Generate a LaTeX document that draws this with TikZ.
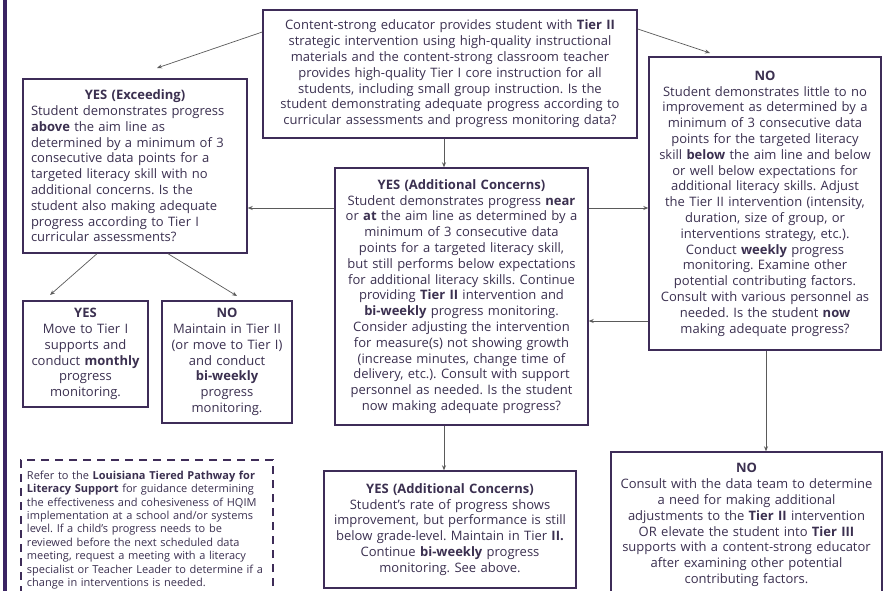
\documentclass[tikz,border=0pt]{standalone}
\usepackage{fontspec}
\setmainfont{Open Sans}
\usetikzlibrary{arrows.meta}
\definecolor{boxc}{HTML}{3E2C58}
\definecolor{txt}{HTML}{3B3050}
\definecolor{arr}{HTML}{5A5A5A}
\definecolor{barc}{HTML}{3A2463}
\frenchspacing
\begin{document}
\frenchspacing
\begin{tikzpicture}[x=1pt,y=-1pt,
  box/.style={draw=boxc, line width=1.4pt, fill=white, text=txt, inner xsep=4pt, inner ysep=0pt, align=center, font=\fontsize{13}{15.8}\selectfont\frenchspacing},
  note/.style={draw=boxc, line width=1.4pt, dash pattern=on 8pt off 6pt, fill=white, text=txt, inner xsep=6pt, inner ysep=0pt, align=left, font=\fontsize{11}{13.4}\selectfont\frenchspacing},
  ar/.style={draw=arr, line width=0.7pt, -{Stealth[length=5pt,width=4pt]}}]
\useasboundingbox (0,0) rectangle (883,591);
\clip (0,0) rectangle (883,591);
\fill[barc] (3,0) rectangle (7,591);

\node[box, minimum width=374pt, minimum height=128pt, text width=366pt] (top) at (450,74) {Content-strong educator provides student with \textbf{Tier II}\\
strategic intervention using high-quality instructional\\
materials and the content-strong classroom teacher\\
provides high-quality Tier I core instruction for all\\
students, including small group instruction. Is the\\
student demonstrating adequate progress according to\\
curricular assessments and progress monitoring data?};

\node[box, align=left, minimum width=224pt, minimum height=174pt, text width=208pt, inner xsep=8pt] (exc) at (135,166) {\makebox[\linewidth][c]{\textbf{YES (Exceeding)}}\\
Student demonstrates progress\\
\textbf{above} the aim line as\\
determined by a minimum of 3\\
consecutive data points for a\\
targeted literacy skill with no\\
additional concerns. Is the\\
student also making adequate\\
progress according to Tier I\\
curricular assessments?};

\node[box, minimum width=253pt, minimum height=257pt, text width=245pt] (mid) at (461.5,296.5) {\textbf{YES (Additional Concerns)}\\
Student demonstrates progress \textbf{near}\\
or \textbf{at} the aim line as determined by a\\
minimum of 3 consecutive data\\
points for a targeted literacy skill,\\
but still performs below expectations\\
for additional literacy skills. Continue\\
providing \textbf{Tier II} intervention and\\
\textbf{bi-weekly} progress monitoring.\\
Consider adjusting the intervention\\
for measure(s) not showing growth\\
(increase minutes, change time of\\
delivery, etc.). Consult with support\\
personnel as needed. Is the student\\
now making adequate progress?};

\node[box, minimum width=232pt, minimum height=293pt, text width=224pt] (no) at (765,203.5) {\textbf{NO}\\
Student demonstrates little to no\\
improvement as determined by a\\
minimum of 3 consecutive data\\
points for the targeted literacy\\
skill \textbf{below} the aim line and below\\
or well below expectations for\\
additional literacy skills. Adjust\\
the Tier II intervention (intensity,\\
duration, size of group, or\\
interventions strategy, etc.).\\
Conduct \textbf{weekly} progress\\
monitoring. Examine other\\
potential contributing factors.\\
Consult with various personnel as\\
needed. Is the student \textbf{now}\\
making adequate progress?};

\node[box, minimum width=125pt, minimum height=106pt, text width=117pt] (yes1) at (85.5,354) {\textbf{YES}\\
Move to Tier I\\
supports and\\
conduct \textbf{monthly}\\
progress\\
monitoring.};

\node[box, minimum width=130pt, minimum height=122pt, text width=122pt] (no1) at (227,362) {\textbf{NO}\\
Maintain in Tier II\\
(or move to Tier I)\\
and conduct\\
\textbf{bi-weekly}\\
progress\\
monitoring.};

\node[note, minimum width=252pt, minimum height=140pt, text width=240pt] (tip) at (147,530) {Refer to the \textbf{Louisiana Tiered Pathway for}\\
\textbf{Literacy Support} for guidance determining\\
the effectiveness and cohesiveness of HQIM\\
implementation at a school and/or systems\\
level. If a child’s progress needs to be\\
reviewed before the next scheduled data\\
meeting, request a meeting with a literacy\\
specialist or Teacher Leader to determine if a\\
change in interventions is needed.};

\node[box, minimum width=252pt, minimum height=117pt, text width=244pt] (bmid) at (450,529.5) {\textbf{YES (Additional Concerns)}\\
Student’s rate of progress shows\\
improvement, but performance is still\\
below grade-level. Maintain in Tier \textbf{II.}\\
Continue \textbf{bi-weekly} progress\\
monitoring. See above.};

\node[box, minimum width=271pt, minimum height=146pt, text width=263pt] (bno) at (746.5,525) {\textbf{NO}\\
Consult with the data team to determine\\
a need for making additional\\
adjustments to the \textbf{Tier II} intervention\\
OR elevate the student into \textbf{Tier III}\\
supports with a content-strong educator\\
after examining other potential\\
contributing factors.};

\coordinate (e1) at (157,68);
\coordinate (n1) at (710,53);
\coordinate (y1) at (50,295);
\coordinate (y2) at (237,296);
\draw[ar] (top.west |- 0,32) -- (e1);
\draw[ar] (top.east |- 0,29) -- (n1);
\draw[ar] (top.south -| 444,0) -- (mid.north -| 444,0);
\draw[ar] (mid.west |- 0,208) -- (exc.east |- 0,208);
\draw[ar] (mid.east |- 0,208) -- (no.west |- 0,208);
\draw[ar] (no.west |- 0,321) -- (mid.east |- 0,321);
\draw[ar] (no.south -| 766,0) -- (bno.north -| 766,0);
\draw[ar] (mid.south -| 444,0) -- (bmid.north -| 444,0);
\draw[ar] (exc.south -| 97,0) -- (y1);
\draw[ar] (exc.south -| 168,0) -- (y2);
\end{tikzpicture}
\end{document}
